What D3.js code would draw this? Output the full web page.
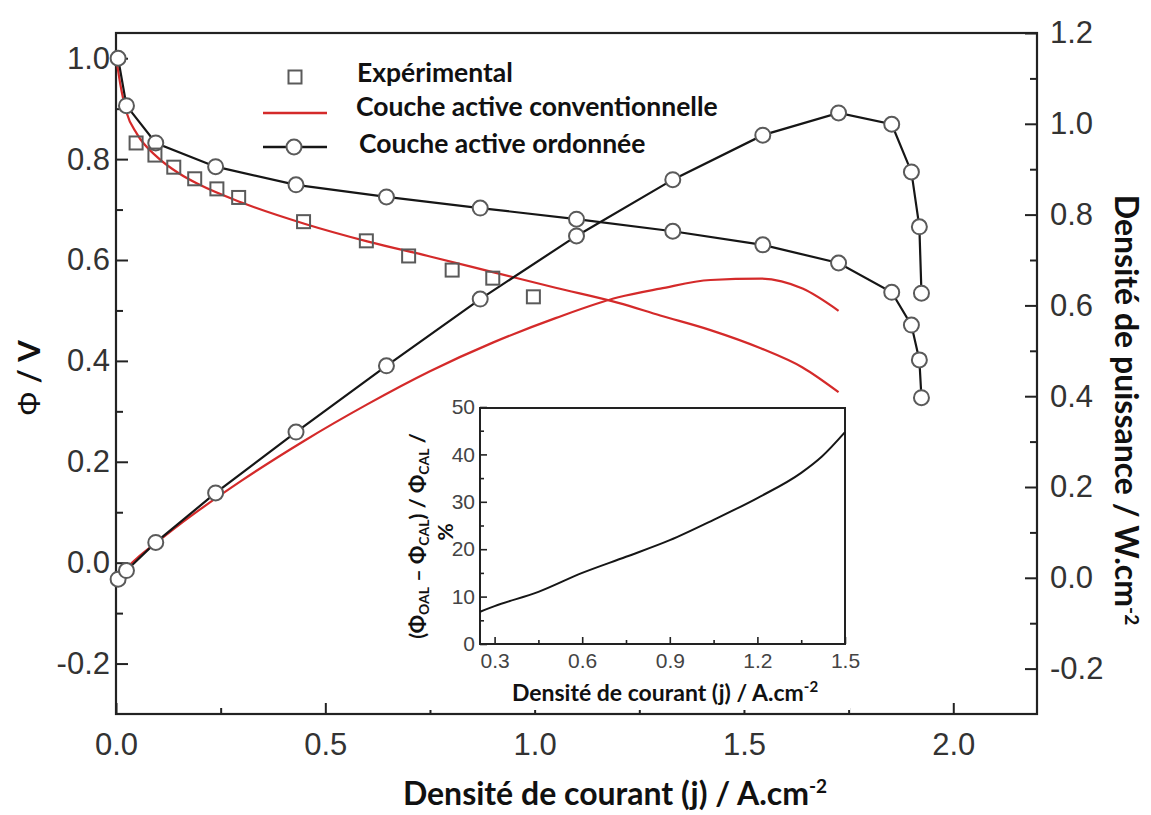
<!DOCTYPE html>
<html>
<head>
<meta charset="utf-8">
<script src="https://cdn.jsdelivr.net/npm/d3@7"></script>
<style>
  html, body { margin: 0; padding: 0; background: #fff; }
  svg { display: block; }
</style>
</head>
<body>
<svg id="chart" width="1151" height="815"></svg>
<script>
// ---------- DATA ----------
// Ordered active layer (circles): current density, cell voltage, power density
const ordJ     = [0.005, 0.025, 0.095, 0.238, 0.430, 0.646, 0.870, 1.100, 1.330, 1.545, 1.726, 1.853, 1.900, 1.919, 1.924];
const ordPhi   = [1.000, 0.906, 0.832, 0.785, 0.749, 0.725, 0.703, 0.681, 0.657, 0.630, 0.594, 0.536, 0.471, 0.402, 0.327];
const ordPower = [-0.003, 0.016, 0.078, 0.187, 0.321, 0.467, 0.614, 0.753, 0.877, 0.975, 1.024, 0.999, 0.894, 0.773, 0.627];

// Experimental points (squares)
const expJ   = [0.048, 0.093, 0.138, 0.188, 0.241, 0.293, 0.448, 0.598, 0.699, 0.803, 0.900, 0.997];
const expPhi = [0.832, 0.808, 0.784, 0.761, 0.741, 0.724, 0.676, 0.638, 0.608, 0.580, 0.564, 0.527];

// Conventional active layer (red lines)
const convJ     = [0, 0.01, 0.025, 0.05, 0.10, 0.15, 0.20, 0.30, 0.45, 0.60, 0.75, 0.90, 1.05, 1.20, 1.30, 1.42, 1.54, 1.64, 1.726];
const convPhi   = [1.003, 0.950, 0.893, 0.850, 0.803, 0.772, 0.749, 0.714, 0.672, 0.637, 0.607, 0.576, 0.545, 0.515, 0.490, 0.461, 0.425, 0.387, 0.338];
const convPower = [-0.005, 0.009, 0.022, 0.043, 0.080, 0.116, 0.150, 0.214, 0.302, 0.382, 0.455, 0.518, 0.572, 0.618, 0.637, 0.656, 0.659, 0.637, 0.588];

// Inset: relative gain (%)
const insetJ   = [0.25, 0.30, 0.45, 0.60, 0.75, 0.90, 1.05, 1.20, 1.35, 1.42, 1.50];
const insetPct = [6.8, 8.0, 11.0, 15.0, 18.4, 21.9, 26.2, 30.8, 36.1, 39.5, 44.7];

// Tick values
const xMajorTicks = [0, 0.5, 1.0, 1.5, 2.0];
const xMinorTicks = [0.25, 0.75, 1.25, 1.75];
const yLeftMajor  = [-0.2, 0.0, 0.2, 0.4, 0.6, 0.8, 1.0];
const yLeftMinor  = [-0.1, 0.1, 0.3, 0.5, 0.7, 0.9];
const yRightMajor = [-0.2, 0.0, 0.2, 0.4, 0.6, 0.8, 1.0, 1.2];
const yRightMinor = [-0.1, 0.1, 0.3, 0.5, 0.7, 0.9, 1.1];
const insetXMajor = [0.3, 0.6, 0.9, 1.2, 1.5];
const insetXMinor = [0.45, 0.75, 1.05, 1.35];
const insetYMajor = [0, 10, 20, 30, 40, 50];
const insetYMinor = [5, 15, 25, 35, 45];

// Legend labels
const legendLabels = ["Expérimental", "Couche active conventionnelle", "Couche active ordonnée"];

// ---------- DRAWING ----------
const svg = d3.select("#chart");
const tickFont = "'Liberation Sans', Arial, sans-serif";
const boldFont = "Lato, 'Open Sans', sans-serif";
const RED = "#d42a2a", BLACK = "#161616", MARK = "#5a5a5a", FRAME = "#222";
const fmt1 = d => d.toFixed(1);

const x  = d3.scaleLinear().domain([0, 2.2]).range([116, 1037]);
const yL = d3.scaleLinear().domain([-0.3, 1.05]).range([714, 33]);
const yR = d3.scaleLinear().domain([-0.3, 1.2]).range([714, 33]);

function styleAxis(g, size) {
  g.select(".domain").remove();
  g.selectAll(".tick line").attr("stroke", FRAME).attr("stroke-width", 2);
  g.selectAll(".tick text").attr("fill", "#333").attr("font-family", tickFont).attr("font-size", size);
}

// main axes
svg.append("g").attr("transform", "translate(0,714)")
  .call(d3.axisBottom(x).tickValues(xMajorTicks).tickSize(-11).tickPadding(19).tickFormat(fmt1))
  .call(g => styleAxis(g, 31));
svg.append("g").attr("transform", "translate(0,714)")
  .call(d3.axisBottom(x).tickValues(xMinorTicks).tickSize(-6).tickFormat(""))
  .call(g => styleAxis(g, 31));

svg.append("g").attr("transform", "translate(116,0)")
  .call(d3.axisLeft(yL).tickValues(yLeftMajor).tickSize(-12).tickPadding(6).tickFormat(fmt1))
  .call(g => styleAxis(g, 31));
svg.append("g").attr("transform", "translate(116,0)")
  .call(d3.axisLeft(yL).tickValues(yLeftMinor).tickSize(-7).tickFormat(""))
  .call(g => styleAxis(g, 31));

svg.append("g").attr("transform", "translate(1037,0)")
  .call(d3.axisRight(yR).tickValues(yRightMajor).tickSize(-12).tickPadding(13).tickFormat(fmt1))
  .call(g => styleAxis(g, 31));
svg.append("g").attr("transform", "translate(1037,0)")
  .call(d3.axisRight(yR).tickValues(yRightMinor).tickSize(-7).tickFormat(""))
  .call(g => styleAxis(g, 31));

// frame
svg.append("rect").attr("x", 116).attr("y", 33).attr("width", 1037 - 116).attr("height", 714 - 33)
  .attr("fill", "none").attr("stroke", FRAME).attr("stroke-width", 2.2);

// red conventional curves
const convPol = convJ.map((j, i) => [j, convPhi[i]]);
const convPow = convJ.map((j, i) => [j, convPower[i]]);
svg.append("path").datum(convPol)
  .attr("d", d3.line().x(d => x(d[0])).y(d => yL(d[1])).curve(d3.curveMonotoneX))
  .attr("fill", "none").attr("stroke", RED).attr("stroke-width", 2.2);
svg.append("path").datum(convPow)
  .attr("d", d3.line().x(d => x(d[0])).y(d => yR(d[1])).curve(d3.curveMonotoneX))
  .attr("fill", "none").attr("stroke", RED).attr("stroke-width", 2.2);

// ordered curves
const ordPol = ordJ.map((j, i) => [j, ordPhi[i]]);
const ordPow = ordJ.map((j, i) => [j, ordPower[i]]);
const lineL = d3.line().x(d => x(d[0])).y(d => yL(d[1]));
const lineR = d3.line().x(d => x(d[0])).y(d => yR(d[1]));
svg.append("path").datum(ordPow).attr("d", lineR).attr("fill", "none").attr("stroke", BLACK).attr("stroke-width", 2.2);
svg.append("g").selectAll("circle").data(ordPow).join("circle")
  .attr("cx", d => x(d[0])).attr("cy", d => yR(d[1])).attr("r", 7.5)
  .attr("fill", "#fff").attr("stroke", MARK).attr("stroke-width", 2);
svg.append("path").datum(ordPol).attr("d", lineL).attr("fill", "none").attr("stroke", BLACK).attr("stroke-width", 2.2);
svg.append("g").selectAll("circle").data(ordPol).join("circle")
  .attr("cx", d => x(d[0])).attr("cy", d => yL(d[1])).attr("r", 7.5)
  .attr("fill", "#fff").attr("stroke", MARK).attr("stroke-width", 2);

// experimental squares
const expPts = expJ.map((j, i) => [j, expPhi[i]]);
const sq = 13;
svg.append("g").selectAll("rect").data(expPts).join("rect")
  .attr("x", d => x(d[0]) - sq / 2).attr("y", d => yL(d[1]) - sq / 2)
  .attr("width", sq).attr("height", sq)
  .attr("fill", "none").attr("stroke", MARK).attr("stroke-width", 2);

// legend
const leg = svg.append("g");
leg.append("rect").attr("x", 295 - sq / 2).attr("y", 77 - sq / 2).attr("width", sq).attr("height", sq)
  .attr("fill", "none").attr("stroke", MARK).attr("stroke-width", 2);
leg.append("line").attr("x1", 263).attr("x2", 327).attr("y1", 113).attr("y2", 113)
  .attr("stroke", RED).attr("stroke-width", 2.4);
leg.append("line").attr("x1", 263).attr("x2", 327).attr("y1", 147).attr("y2", 147)
  .attr("stroke", BLACK).attr("stroke-width", 2.4);
leg.append("circle").attr("cx", 294).attr("cy", 147).attr("r", 7.5)
  .attr("fill", "#fff").attr("stroke", MARK).attr("stroke-width", 2);
const legY = [82, 116, 153], legX = [357, 356, 359];
leg.selectAll("text").data(legendLabels).join("text")
  .attr("x", (d, i) => legX[i]).attr("y", (d, i) => legY[i])
  .attr("font-family", boldFont).attr("font-weight", 700).attr("font-size", 26.5).attr("fill", "#111")
  .text(d => d);

// axis titles
const xt = svg.append("text").attr("x", 615).attr("y", 805).attr("text-anchor", "middle")
  .attr("font-family", boldFont).attr("font-weight", 700).attr("font-size", 32).attr("fill", "#111");
xt.append("tspan").text("Densité de courant (j) / A.cm");
xt.append("tspan").attr("dy", -12).attr("font-size", 19).text("-2");

const rt = svg.append("text").attr("transform", "translate(1115,410) rotate(90)").attr("text-anchor", "middle")
  .attr("font-family", boldFont).attr("font-weight", 700).attr("font-size", 32).attr("fill", "#111");
rt.append("tspan").text("Densité de puissance / W.cm");
rt.append("tspan").attr("dy", -10).attr("font-size", 19).text("-2");

const lt = svg.append("text").attr("transform", "translate(40,378) rotate(-90)").attr("text-anchor", "middle")
  .attr("font-size", 31).attr("fill", "#111");
lt.append("tspan").attr("font-family", tickFont).text("Φ");
lt.append("tspan").attr("font-family", boldFont).attr("font-weight", 700).text("  / V");

// ---------- INSET ----------
const ix = d3.scaleLinear().domain([0.25, 1.5]).range([480, 845]);
const iy = d3.scaleLinear().domain([0, 50]).range([644, 407]);
svg.append("rect").attr("x", 395).attr("y", 395).attr("width", 455).attr("height", 315).attr("fill", "#fff");

function styleInset(g) {
  g.select(".domain").remove();
  g.selectAll(".tick line").attr("stroke", FRAME).attr("stroke-width", 1.6);
  g.selectAll(".tick text").attr("fill", "#444").attr("font-family", tickFont).attr("font-size", 21);
}
svg.append("g").attr("transform", "translate(0,644)")
  .call(d3.axisBottom(ix).tickValues(insetXMajor).tickSize(-7).tickPadding(9).tickFormat(fmt1))
  .call(styleInset);
svg.append("g").attr("transform", "translate(0,644)")
  .call(d3.axisBottom(ix).tickValues(insetXMinor).tickSize(-4).tickFormat(""))
  .call(styleInset);
svg.append("g").attr("transform", "translate(480,0)")
  .call(d3.axisLeft(iy).tickValues(insetYMajor).tickSize(-7).tickPadding(5).tickFormat(d3.format("d")))
  .call(styleInset);
svg.append("g").attr("transform", "translate(480,0)")
  .call(d3.axisLeft(iy).tickValues(insetYMinor).tickSize(-4).tickFormat(""))
  .call(styleInset);

svg.append("rect").attr("x", 480).attr("y", 408).attr("width", 845 - 480).attr("height", 644 - 408)
  .attr("fill", "none").attr("stroke", FRAME).attr("stroke-width", 2);

const insetPts = insetJ.map((j, i) => [j, insetPct[i]]);
svg.append("path").datum(insetPts)
  .attr("d", d3.line().x(d => ix(d[0])).y(d => iy(d[1])).curve(d3.curveMonotoneX))
  .attr("fill", "none").attr("stroke", BLACK).attr("stroke-width", 2);

const ixt = svg.append("text").attr("x", 665).attr("y", 701).attr("text-anchor", "middle")
  .attr("font-family", boldFont).attr("font-weight", 700).attr("font-size", 23).attr("fill", "#111");
ixt.append("tspan").text("Densité de courant  (j) / A.cm");
ixt.append("tspan").attr("dy", -9).attr("font-size", 15).text("-2");

const iyt = svg.append("text").attr("transform", "translate(425,536) rotate(-90)").attr("text-anchor", "middle")
  .attr("font-family", boldFont).attr("font-weight", 700).attr("font-size", 21.5).attr("fill", "#111");
const parts = [["(Φ", 0], ["OAL", 1], [" – Φ", 0], ["CAL", 1], [") / Φ", 0], ["CAL", 1], [" /", 0]];
parts.forEach(([t, sub], i) => {
  const ts = iyt.append("tspan").text(t);
  if (sub) ts.attr("font-size", 14).attr("dy", 4);
  else if (i > 0) ts.attr("dy", -4);
});
svg.append("text").attr("transform", "translate(453,532) rotate(-90)").attr("text-anchor", "middle")
  .attr("font-family", boldFont).attr("font-weight", 700).attr("font-size", 21).attr("fill", "#111")
  .text("%");
</script>
</body>
</html>
